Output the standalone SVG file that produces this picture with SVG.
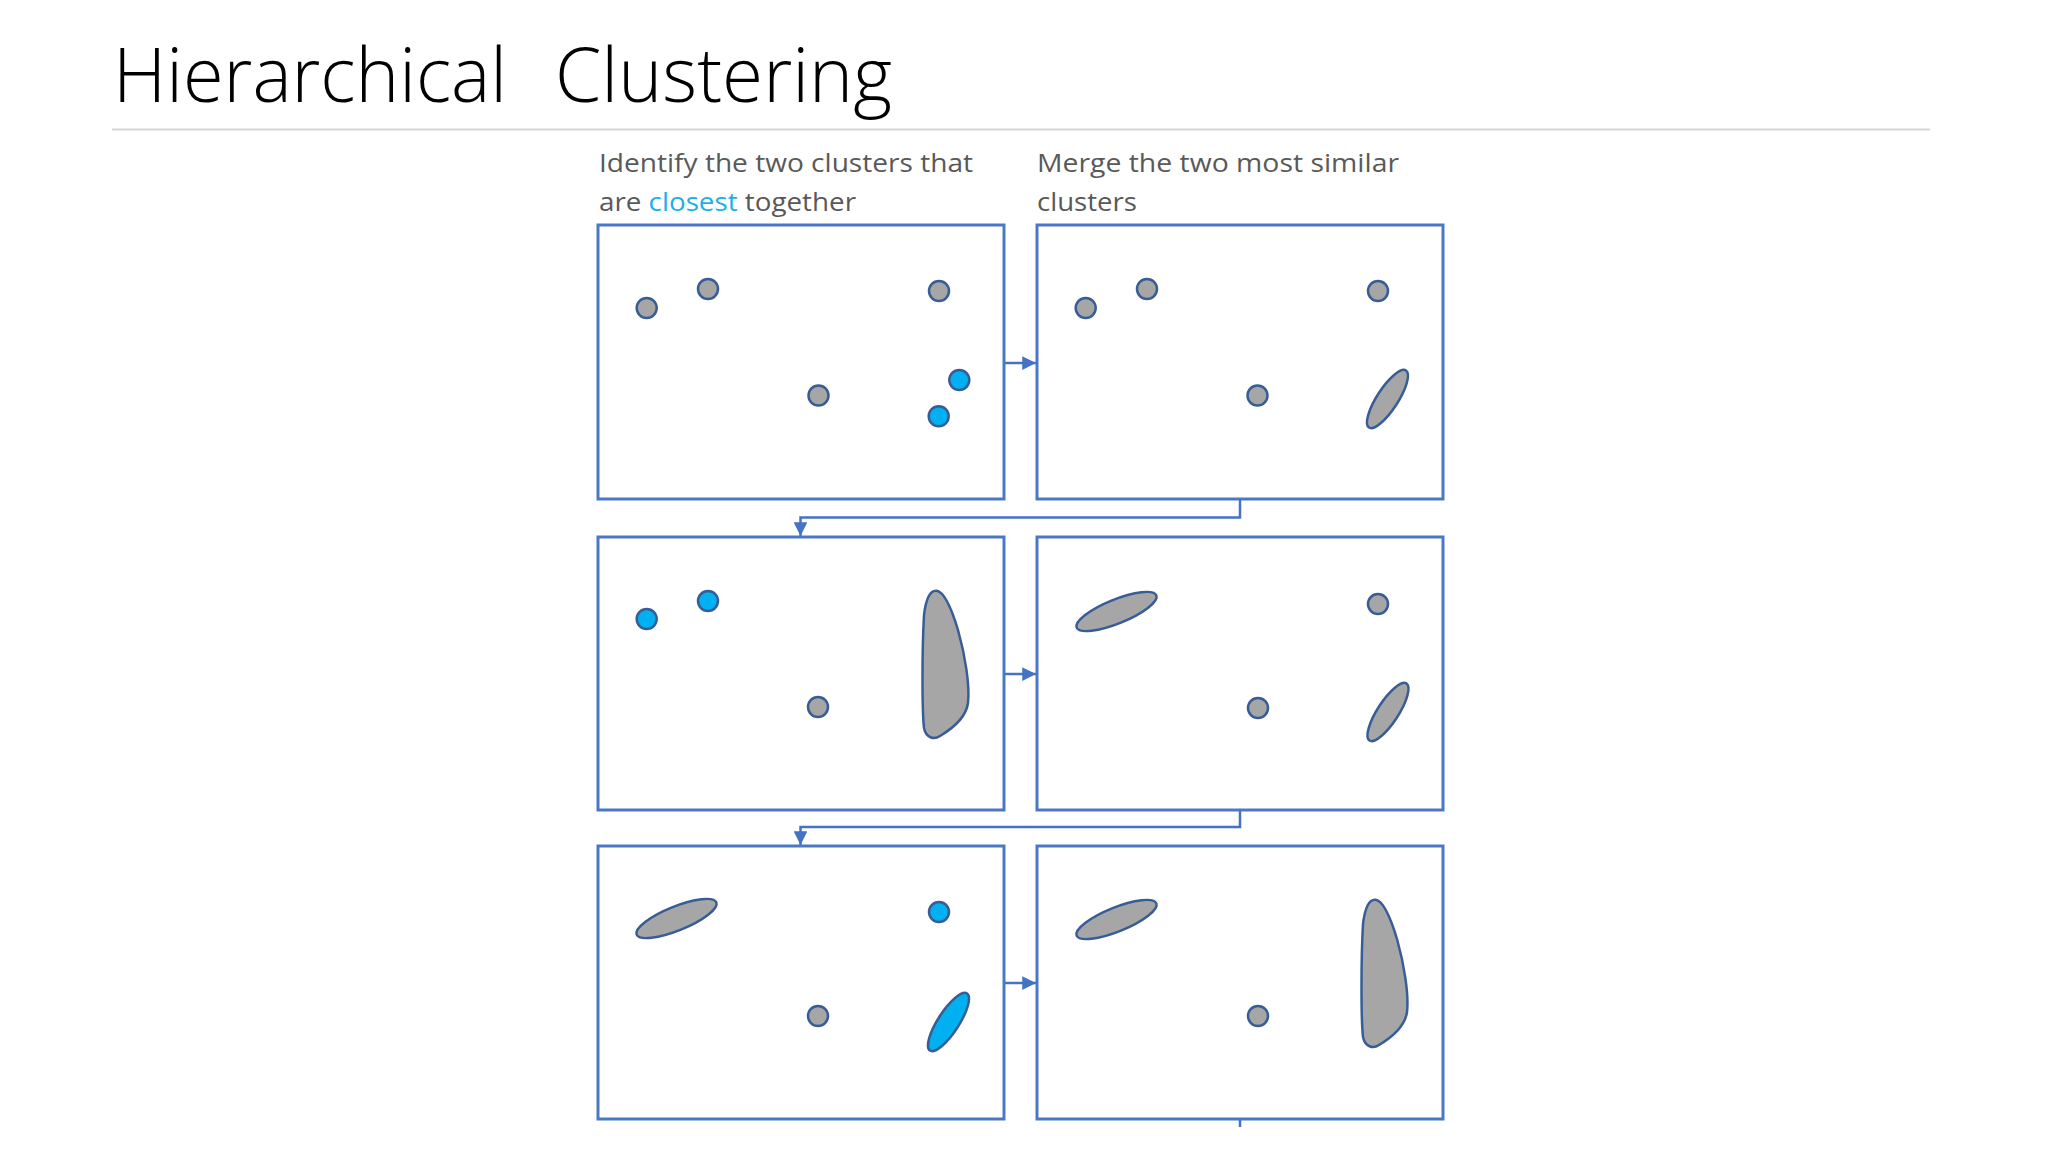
<svg xmlns="http://www.w3.org/2000/svg" xmlns:xlink="http://www.w3.org/1999/xlink" width="2048" height="1152" viewBox="0 0 2048 1152">
<style>
.title{font-family:"Open Sans","Liberation Sans",sans-serif;font-weight:300;font-size:76px;fill:#000}
.cap{font-family:"Open Sans","Liberation Sans",sans-serif;font-size:25px;fill:#595959}
.hl{fill:#1cb0e6}
.box{fill:#fff;stroke:#4a78c6;stroke-width:3}
.pt{fill:#a6a6a6;stroke:#385d96;stroke-width:2.5}
.sel{fill:#00b0f0;stroke:#385d96;stroke-width:2.5}
.conn{fill:none;stroke:#4472c4;stroke-width:2.5}
</style>
<defs>
<marker id="ah" viewBox="0 0 10 10" refX="10" refY="5" markerWidth="5.5" markerHeight="5.5" orient="auto" markerUnits="strokeWidth">
<path d="M0,0 L10,5 L0,10 Z" fill="#4472c4"/>
</marker>
<path id="blob" d="M 936.7,590.7 C 945,592 952,610 958,630 C 965,655 970,685 968,703 C 966,718 950,730 940,736 C 934,740 926,738 924,728 C 922,710 922,650 924,615 C 926,598 930,590 936.7,590.7 Z"/>
</defs>
<rect width="2048" height="1152" fill="#fff"/>
<g id="title">
<text class="title" y="102"><tspan x="113" textLength="394" lengthAdjust="spacingAndGlyphs">Hierarchical</tspan> <tspan x="555" textLength="337" lengthAdjust="spacingAndGlyphs">Clustering</tspan></text>
<line x1="112" y1="129.5" x2="1930" y2="129.5" stroke="#d6d6d6" stroke-width="2"/>
</g>
<g id="captions">
<text class="cap" x="599" y="172" textLength="374" lengthAdjust="spacingAndGlyphs">Identify the two clusters that</text>
<text class="cap" x="599" y="211" textLength="257" lengthAdjust="spacingAndGlyphs">are <tspan class="hl">closest</tspan> together</text>
<text class="cap" x="1037" y="172" textLength="362" lengthAdjust="spacingAndGlyphs">Merge the two most similar</text>
<text class="cap" x="1037" y="211" textLength="100" lengthAdjust="spacingAndGlyphs">clusters</text>
</g>
<g id="connectors">
<line class="conn" x1="1004" y1="363" x2="1036" y2="363" marker-end="url(#ah)"/>
<path class="conn" d="M1240,499 V517.5 H800.5 V536" marker-end="url(#ah)"/>
<line class="conn" x1="1004" y1="674" x2="1036" y2="674" marker-end="url(#ah)"/>
<path class="conn" d="M1240,810 V827 H800.5 V845" marker-end="url(#ah)"/>
<line class="conn" x1="1004" y1="983" x2="1036" y2="983" marker-end="url(#ah)"/>
<path class="conn" d="M1240,1119 V1127"/>
</g>
<g id="step1" transform="translate(598,225)">
<rect class="box" x="0" y="0" width="406" height="274"/>
<circle class="pt" cx="48.7" cy="83" r="10"/>
<circle class="pt" cx="110" cy="64" r="10"/>
<circle class="pt" cx="341" cy="66" r="10"/>
<circle class="pt" cx="220.5" cy="170.5" r="10"/>
<circle class="sel" cx="361.3" cy="155" r="10"/>
<circle class="sel" cx="340.7" cy="191.3" r="10"/>
</g>
<g id="step2" transform="translate(1037,225)">
<rect class="box" x="0" y="0" width="406" height="274"/>
<circle class="pt" cx="48.7" cy="83" r="10"/>
<circle class="pt" cx="110" cy="64" r="10"/>
<circle class="pt" cx="341" cy="66" r="10"/>
<circle class="pt" cx="220.5" cy="170.5" r="10"/>
<ellipse class="pt" cx="0" cy="0" rx="34" ry="10.5" transform="translate(350.5,174) rotate(-57)"/>
</g>
<g id="step3" transform="translate(598,537)">
<rect class="box" x="0" y="0" width="406" height="273"/>
<circle class="sel" cx="48.7" cy="82" r="10"/>
<circle class="sel" cx="110" cy="64" r="10"/>
<circle class="pt" cx="220" cy="170" r="10"/>
<use xlink:href="#blob" class="pt" transform="translate(-598,-537)"/>
</g>
<g id="step4" transform="translate(1037,537)">
<rect class="box" x="0" y="0" width="406" height="273"/>
<ellipse class="pt" cx="0" cy="0" rx="43" ry="12" transform="translate(79.5,74.5) rotate(-22)"/>
<circle class="pt" cx="341" cy="67" r="10"/>
<circle class="pt" cx="221" cy="171" r="10"/>
<ellipse class="pt" cx="0" cy="0" rx="34" ry="10.5" transform="translate(351,175) rotate(-57)"/>
</g>
<g id="step5" transform="translate(598,846)">
<rect class="box" x="0" y="0" width="406" height="273"/>
<ellipse class="pt" cx="0" cy="0" rx="43" ry="12" transform="translate(78.5,72.5) rotate(-22)"/>
<circle class="sel" cx="341" cy="66" r="10"/>
<circle class="pt" cx="220" cy="170" r="10"/>
<ellipse class="sel" cx="0" cy="0" rx="34" ry="10.5" transform="translate(350.5,176) rotate(-57)"/>
</g>
<g id="step6" transform="translate(1037,846)">
<rect class="box" x="0" y="0" width="406" height="273"/>
<ellipse class="pt" cx="0" cy="0" rx="43" ry="12" transform="translate(79.5,73.5) rotate(-22)"/>
<circle class="pt" cx="221" cy="170" r="10"/>
<use xlink:href="#blob" class="pt" transform="translate(-598,-537)"/>
</g>
</svg>
